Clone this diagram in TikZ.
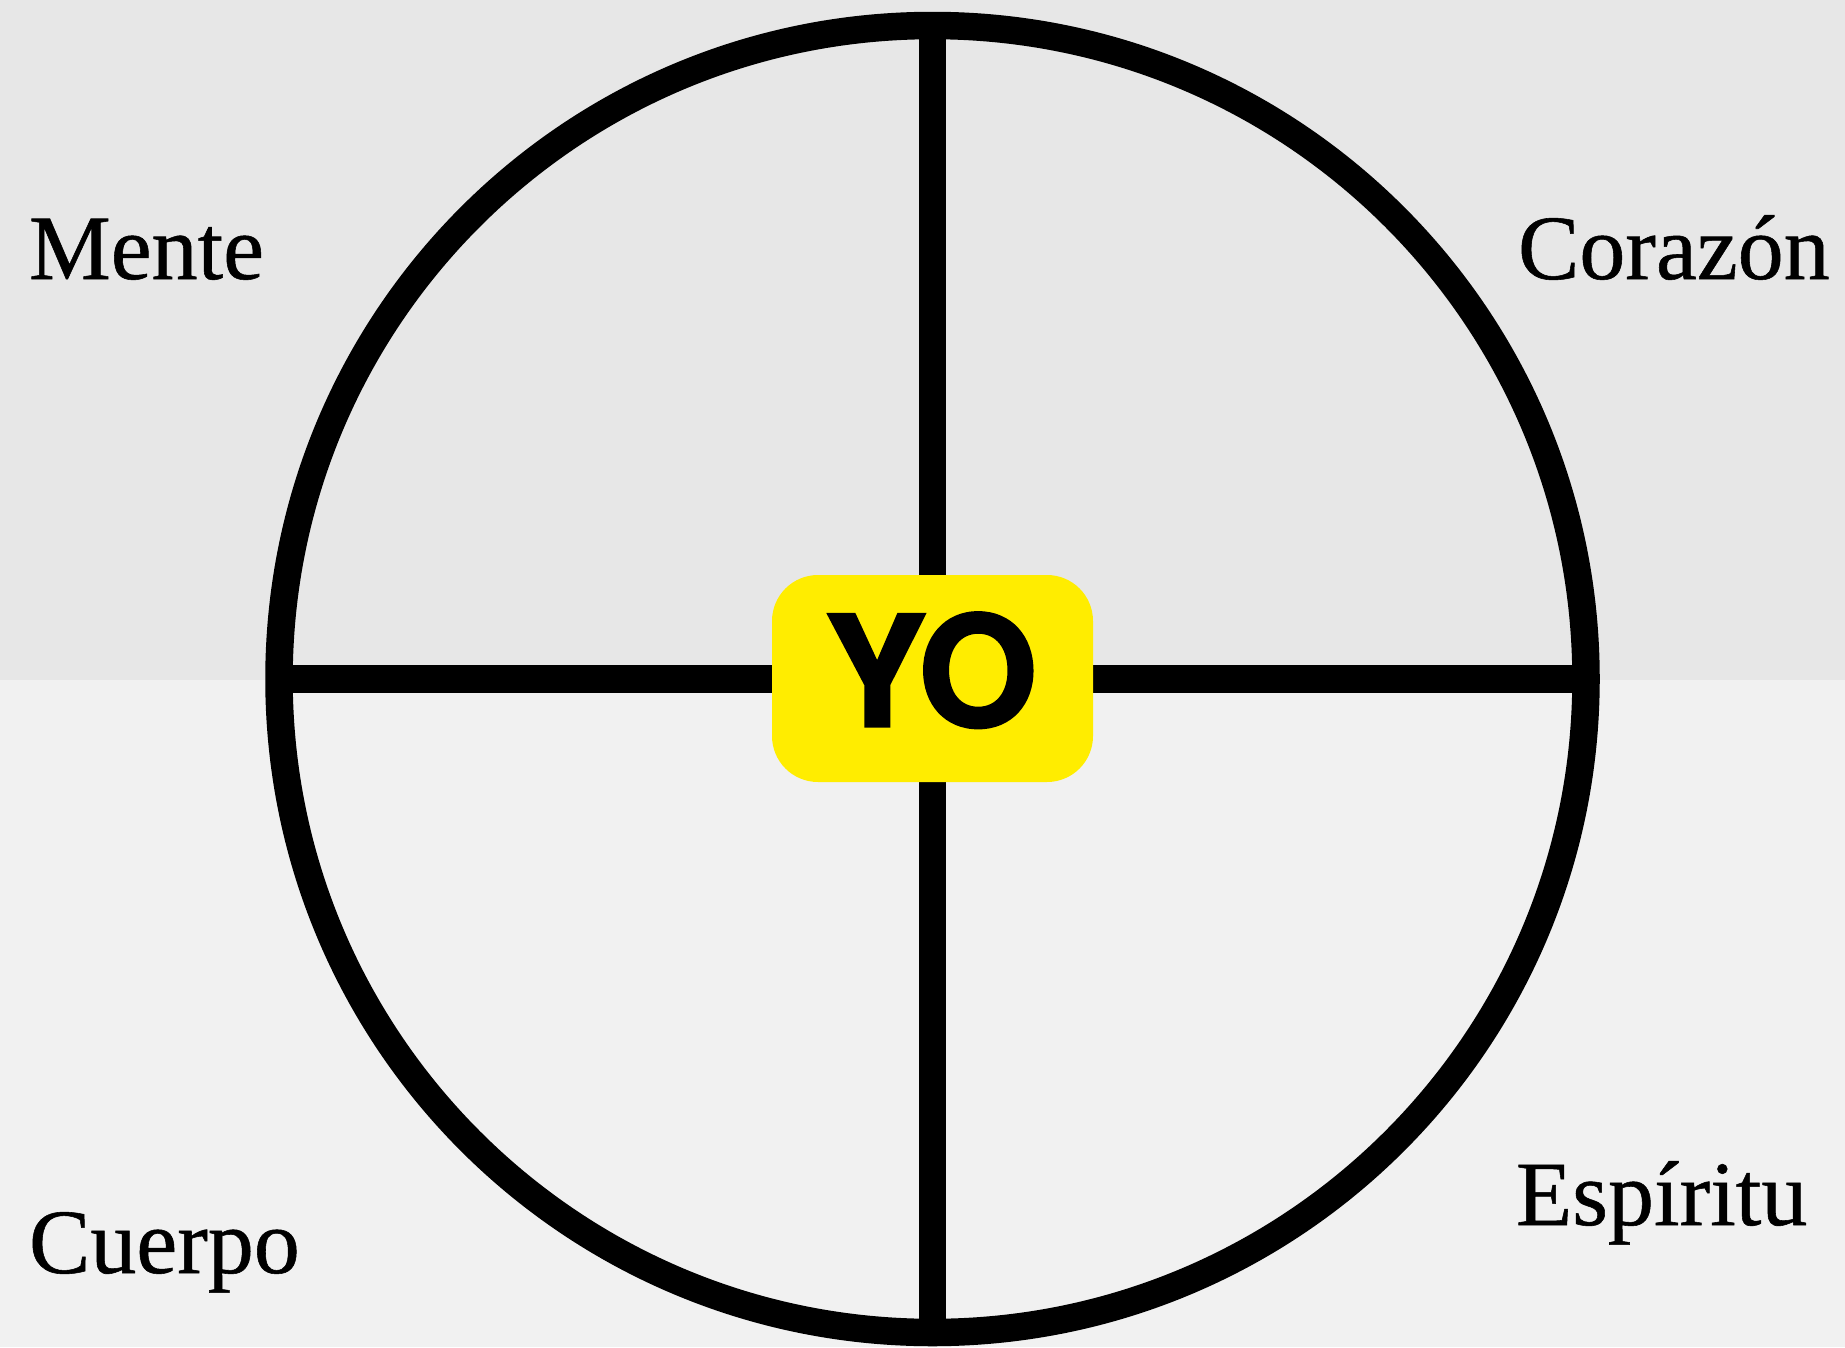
\documentclass[tikz,border=0pt]{standalone}
\usepackage{fontspec}
\setmainfont[FakeBold=0.6]{Liberation Serif}
\newfontfamily\yofont[BoldFeatures={FakeBold=2}]{TeX Gyre Heros}
\definecolor{paperTop}{HTML}{E7E7E7}
\definecolor{paperBot}{HTML}{F1F1F1}
\definecolor{yoYellow}{HTML}{FFED00}
\tikzset{
  label/.style={inner sep=0pt, outer sep=0pt, anchor=base west, font=\fontsize{92}{100}\selectfont, text=black},
  ringline/.style={line width=27.5pt, draw=black},
}
\begin{document}
\begin{tikzpicture}[x=1pt,y=-1pt]
\useasboundingbox (0,0) rectangle (1845,1347);
\fill[paperTop] (0,0) rectangle (1845,680);
\fill[paperBot] (0,680) rectangle (1845,1347);
\node[circle, ringline, minimum size=1307pt, inner sep=0pt, outer sep=0pt] (ring) at (932.5,679) {};
\draw[ringline] (ring.north) -- (ring.south);
\draw[ringline] (ring.west) -- (ring.east);
\node[fill=yoYellow, rounded corners=46pt, minimum width=321pt, minimum height=207pt, inner sep=0pt] (yo) at (932.5,678.5) {};
\node[inner sep=0pt, anchor=base, font=\yofont\bfseries\fontsize{153}{160}\selectfont] (yotext) at (931,726) {YO};
\node[label] (mente) at (29,279) {Mente};
\node[label] (corazon) at (1518,279) {Corazón};
\node[label] (cuerpo) at (29,1273) {Cuerpo};
\node[label] (espiritu) at (1516,1225) {Espíritu};
\end{tikzpicture}
\end{document}
